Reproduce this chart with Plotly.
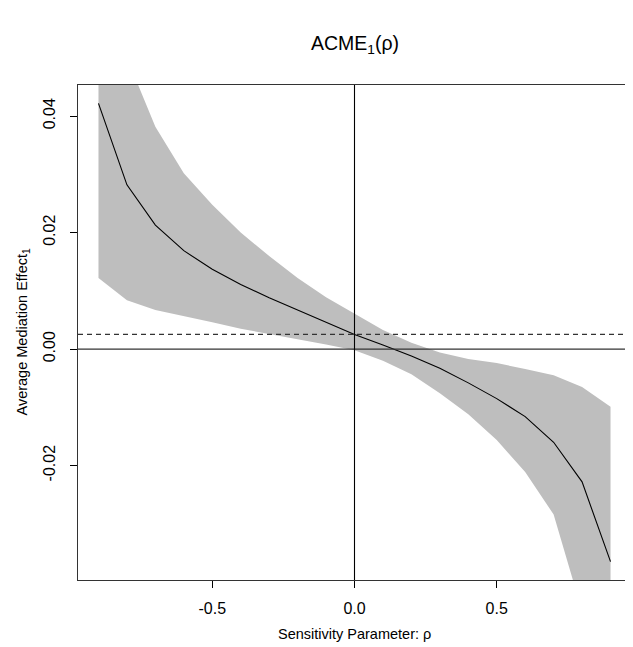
import plotly.graph_objects as go

# Sensitivity parameter rho
rho = [-0.9, -0.8, -0.7, -0.6, -0.5, -0.4, -0.3, -0.2, -0.1, 0.0,
       0.1, 0.2, 0.3, 0.4, 0.5, 0.6, 0.7, 0.8, 0.9]
# ACME estimate as a function of rho
acme = [0.0422, 0.0282, 0.0213, 0.0169, 0.0137, 0.0111, 0.0088, 0.0067, 0.0046, 0.00252,
        0.0007, -0.0012, -0.0033, -0.0058, -0.0085, -0.0116, -0.0160, -0.0228, -0.0365]
# confidence band
upper = [0.0720, 0.0500, 0.0382, 0.0302, 0.0248, 0.0200, 0.0160, 0.0122, 0.0089, 0.0061,
         0.0033, 0.0011, -0.0006, -0.0017, -0.0024, -0.0034, -0.0045, -0.0065, -0.0099]
lower = [0.0122, 0.0084, 0.0067, 0.0057, 0.0046, 0.0035, 0.0026, 0.0017, 0.0008, -0.0002,
         -0.0020, -0.0043, -0.0076, -0.0112, -0.0156, -0.0211, -0.0284, -0.0450, -0.0700]
acme_at_zero = 0.00252

x_ticks = [-0.5, 0.0, 0.5]
x_ticktext = ["-0.5", "0.0", "0.5"]
y_ticks = [-0.02, 0.0, 0.02, 0.04]
y_ticktext = ["-0.02", "0.00", "0.02", "0.04"]

FONT = "Liberation Sans, Arial, Helvetica, sans-serif"

fig = go.Figure()
fig.add_trace(go.Scatter(
    x=rho + rho[::-1], y=upper + lower[::-1],
    fill="toself", fillcolor="#BEBEBE", line=dict(width=0),
    mode="lines", hoverinfo="skip", showlegend=False))
fig.add_trace(go.Scatter(
    x=rho, y=acme, mode="lines", line=dict(color="black", width=1.1),
    showlegend=False))

# reference lines
fig.add_shape(type="line", xref="paper", yref="y", x0=0, x1=1,
              y0=acme_at_zero, y1=acme_at_zero,
              line=dict(color="#333333", width=1.1, dash="5px,4px"))
fig.add_shape(type="line", xref="paper", yref="y", x0=0, x1=1, y0=0, y1=0,
              line=dict(color="#333333", width=1.1))
fig.add_shape(type="line", xref="x", yref="paper", x0=0, x1=0, y0=0, y1=1,
              line=dict(color="black", width=1.1))

xmin, xmax = min(rho), max(rho)
dx = 0.04 * (xmax - xmin)
ymin, ymax = min(acme), max(acme)
dy = 0.04 * (ymax - ymin)

# the page body has an 8px default margin; size the figure so it fits the window
fig.update_layout(
    width=625, height=639,
    margin=dict(l=70, r=2, t=77, b=67),
    paper_bgcolor="white", plot_bgcolor="white",
    font=dict(family=FONT, color="black", size=16),
    xaxis=dict(range=[xmin - dx, xmax + dx], showgrid=False, zeroline=False,
               tickvals=x_ticks, ticktext=x_ticktext, ticks="outside", ticklen=7,
               tickcolor="black", showline=True, linecolor="#333333", linewidth=1.2,
               mirror=True, ticklabelstandoff=7, tickfont=dict(size=16),
               automargin=False),
    yaxis=dict(range=[ymin - dy, ymax + dy], showgrid=False, zeroline=False,
               tickvals=y_ticks, ticktext=y_ticktext, ticks="outside", ticklen=7,
               tickcolor="black", showline=True, linecolor="#333333", linewidth=1.2,
               mirror=True, tickangle=-90, ticklabelstandoff=9, tickfont=dict(size=16),
               automargin=False),
    annotations=[
        dict(text="ACME<sub>1</sub>(ρ)", x=0.5, y=1, xref="paper", yref="paper",
             yanchor="middle", xanchor="center", yshift=41, showarrow=False,
             font=dict(size=19.5)),
        dict(text="Sensitivity Parameter: ρ", x=0.5, y=0, xref="paper", yref="paper",
             yanchor="middle", xanchor="center", yshift=-54, showarrow=False,
             font=dict(size=14.5)),
        dict(text="Average Mediation Effect<sub>1</sub>", x=0, y=0.5, xref="paper",
             yref="paper", xanchor="center", yanchor="middle", xshift=-56,
             textangle=-90, showarrow=False, font=dict(size=14.5)),
    ],
)

fig.write_html("out.html")
